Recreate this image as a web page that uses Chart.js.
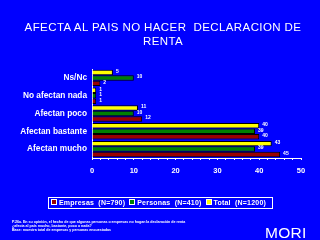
<!DOCTYPE html>
<html>
<head>
<meta charset="utf-8">
<script src="https://cdn.jsdelivr.net/npm/chart.js@4/dist/chart.umd.min.js"></script>
<style>
  html, body { margin: 0; padding: 0; background: #0000ff; }
  #wrap { position: relative; width: 320px; height: 240px; overflow: hidden; background: #0000ff; }
  #c { position: absolute; left: 0; top: 0; }
  .txt { position: absolute; color: #fff; font-family: "Liberation Sans", Arial, sans-serif; white-space: nowrap; }
  #title { left: 0; width: 326px; top: 20px; text-align: center; font-size: 11.5px; line-height: 14px; letter-spacing: 0.4px; }
  #legend { left: 48px; top: 197px; width: 223px; height: 10px; border: 1px solid #fff; font-size: 7px; font-weight: bold; line-height: 10px; }
  #legend span.sq { display: inline-block; width: 4px; height: 4px; border: 1px solid #fff; margin: 0 2px 0 2px; vertical-align: 0px; }
  #legend span.it { margin-right: 2px; letter-spacing: 0.2px; }
  #note { left: 12px; top: 220px; font-size: 3.6px; line-height: 4px; font-weight: bold; }
  #mori { left: 265px; top: 224px; font-size: 15.5px; letter-spacing: 0.3px; }
</style>
</head>
<body>
<div id="wrap">
  <canvas id="c" width="320" height="240"></canvas>
  <div class="txt" id="title">AFECTA AL PAIS NO HACER&nbsp; DECLARACION DE<br>RENTA</div>
  <div class="txt" id="legend"><span class="sq" style="background:#990000"></span><span class="it">Empresas&nbsp; (N=790)</span><span class="sq" style="background:#008000"></span><span class="it">Personas&nbsp; (N=410)</span><span class="sq" style="background:#ffff00"></span><span class="it">Total&nbsp; (N=1200)</span></div>
  <div class="txt" id="note">P.26a. En su opinión, el hecho de que algunas personas o empresas no hagan la declaración de renta<br>¿afecta al país mucho, bastante, poco o nada?<br>Base: muestra total de empresas y personas encuestadas</div>
  <div class="txt" id="mori">MORI</div>
</div>
<script>
(function(){
    const categories = ['Ns/Nc', 'No afectan nada', 'Afectan poco', 'Afectan bastante', 'Afectan mucho'];
    const total = [5, 1, 11, 40, 43];
    const personas = [10, 1, 10, 39, 39];
    const empresas = [2, 1, 12, 40, 45];
    const xTicks = [0, 10, 20, 30, 40, 50];

    const valueLabels = {
        id: 'valueLabels',
        afterDatasetsDraw(chart) {
            const ctx = chart.ctx;
            ctx.save();
            ctx.fillStyle = '#fff';
            ctx.font = 'bold 5px "Liberation Sans", Arial, sans-serif';
            ctx.textBaseline = 'middle';
            chart.data.datasets.forEach((ds, i) => {
                chart.getDatasetMeta(i).data.forEach((bar, j) => {
                    ctx.fillText(String(ds.data[j]), bar.x + 3, bar.y - 1);
                });
            });
            ctx.restore();
        }
    };

    new Chart(document.getElementById('c'), {
        type: 'bar',
        data: {
            labels: categories,
            datasets: [
                { label: 'Total (N=1200)', data: total, backgroundColor: '#ffff00', borderColor: '#000', borderWidth: 1 },
                { label: 'Personas (N=410)', data: personas, backgroundColor: '#008000', borderColor: '#000', borderWidth: 1 },
                { label: 'Empresas (N=790)', data: empresas, backgroundColor: '#990000', borderColor: '#000', borderWidth: 1 }
            ]
        },
        options: {
            indexAxis: 'y',
            responsive: false,
            animation: false,
            devicePixelRatio: 1,
            layout: { padding: { left: 0, right: 19, top: 69, bottom: 64 } },
            categoryPercentage: 0.92,
            barPercentage: 1.0,
            plugins: {
                legend: { display: false },
                title: { display: false },
                tooltip: { enabled: false }
            },
            scales: {
                x: {
                    min: 0,
                    max: 50,
                    afterFit(scale) { scale.height = 18; },
                    afterBuildTicks(scale) {
                        const t = [];
                        for (let v = 0; v <= 50; v += 2) t.push({ value: v });
                        scale.ticks = t;
                    },
                    grid: { drawOnChartArea: false, color: '#fff', tickLength: 2, tickColor: '#fff' },
                    border: { color: '#fff', width: 1 },
                    ticks: {
                        color: '#fff',
                        autoSkip: false,
                        maxRotation: 0,
                        padding: 6,
                        font: { size: 7.5, weight: 'bold', family: '"Liberation Sans", Arial, sans-serif' },
                        callback: v => xTicks.includes(v) ? String(v) : ''
                    }
                },
                y: {
                    afterFit(scale) { scale.width = 92; },
                    grid: { display: false, drawTicks: false },
                    border: { color: '#fff', width: 1 },
                    ticks: {
                        color: '#fff',
                        padding: 5,
                        font: { size: 8.3, weight: 'bold', family: '"Liberation Sans", Arial, sans-serif' }
                    }
                }
            }
        },
        plugins: [valueLabels]
    });
})();
</script>
</body>
</html>
